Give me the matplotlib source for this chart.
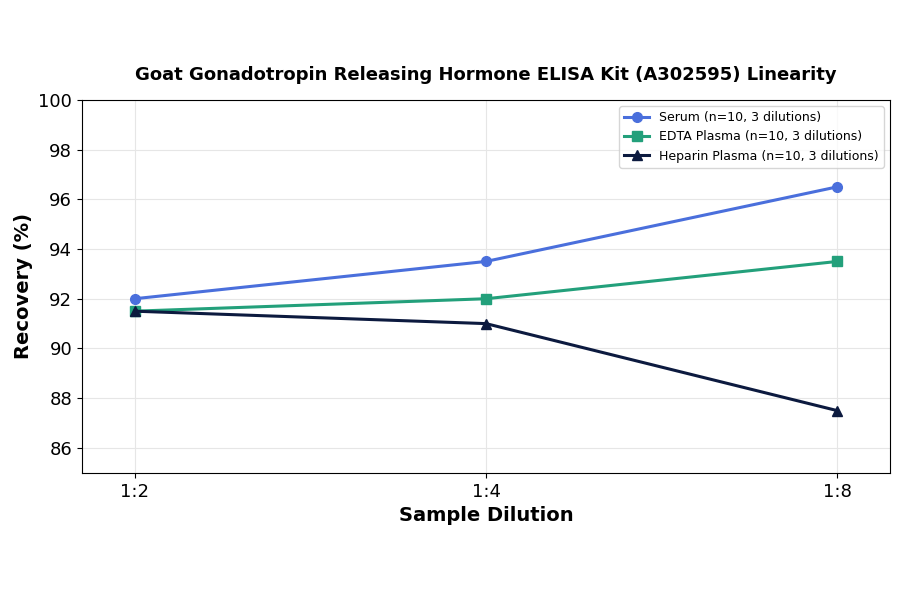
import matplotlib.pyplot as plt

dilutions = ['1:2', '1:4', '1:8']
serum = [92.0, 93.5, 96.5]
edta = [91.5, 92.0, 93.5]
heparin = [91.5, 91.0, 87.5]

fig = plt.figure(figsize=(9, 5.94), dpi=100)
ax = fig.add_axes([0.091, 0.204, 0.898, 0.628])

x = range(len(dilutions))
ax.plot(x, serum, color='#4a6fdc', marker='o', lw=2.2, ms=7, label='Serum (n=10, 3 dilutions)')
ax.plot(x, edta, color='#23a07b', marker='s', lw=2.2, ms=7, label='EDTA Plasma (n=10, 3 dilutions)')
ax.plot(x, heparin, color='#0c1a3f', marker='^', lw=2.2, ms=7, label='Heparin Plasma (n=10, 3 dilutions)')

ax.set_xticks(list(x))
ax.set_xticklabels(dilutions, fontsize=13)
ax.tick_params(axis='y', labelsize=13)
ax.set_xlim(-0.15, 2.15)
ax.set_ylim(85, 100)
ax.set_yticks(range(86, 101, 2))
ax.grid(True, color='#e6e6e6', lw=0.8)
ax.set_xlabel('Sample Dilution', fontsize=14, fontweight='bold')
ax.set_ylabel('Recovery (%)', fontsize=14, fontweight='bold')
ax.set_title('Goat Gonadotropin Releasing Hormone ELISA Kit (A302595) Linearity',
             fontsize=13, fontweight='bold', pad=14)
ax.legend(loc='upper right', fontsize=9)

fig.savefig('out.png', dpi=100)
